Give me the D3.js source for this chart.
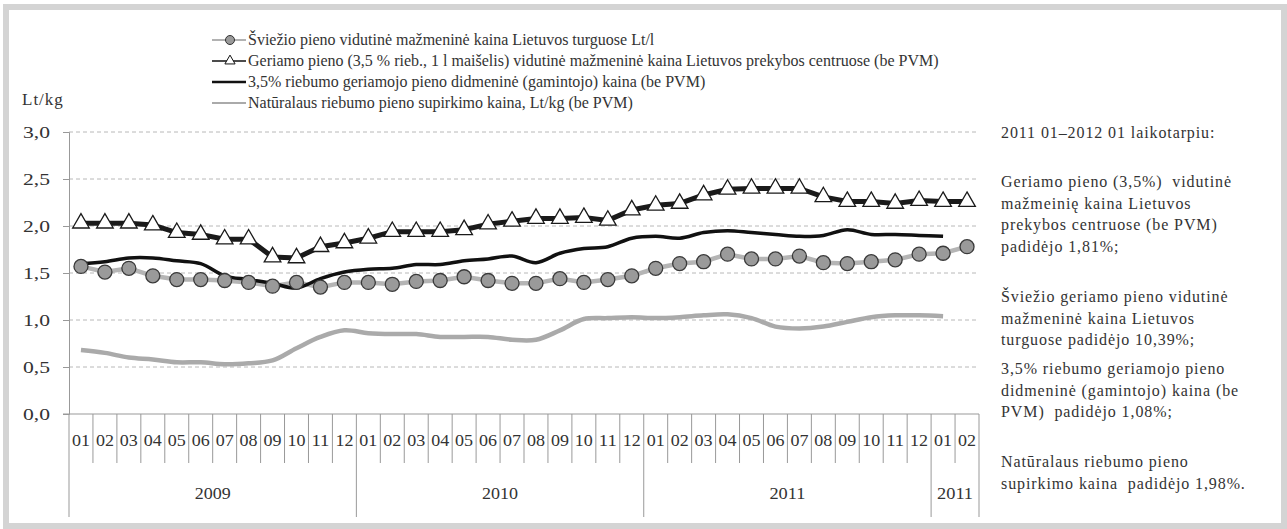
<!DOCTYPE html>
<html>
<head>
<meta charset="utf-8">
<script src="https://cdn.jsdelivr.net/npm/d3@7"></script>
<style>
  body { margin: 0; background: #fff; }
</style>
</head>
<body>
<svg id="chart" width="1287" height="529"></svg>
<script>
// months 2009-01 .. 2011-02 (last two labelled "2011" as in the source)
const months = ['01','02','03','04','05','06','07','08','09','10','11','12',
  '01','02','03','04','05','06','07','08','09','10','11','12',
  '01','02','03','04','05','06','07','08','09','10','11','12',
  '01','02'];
const years = [
  { label: '2009', from: 0, to: 12 },
  { label: '2010', from: 12, to: 24 },
  { label: '2011', from: 24, to: 36 },
  { label: '2011', from: 36, to: 38 }
];
const yTicks = [0, 0.5, 1, 1.5, 2, 2.5, 3];

// Šviežio pieno vidutinė mažmeninė kaina Lietuvos turguose
const turgus = [1.57,1.51,1.55,1.47,1.43,1.43,1.42,1.40,1.36,1.40,1.35,1.40,
  1.40,1.38,1.41,1.42,1.46,1.42,1.39,1.39,1.44,1.40,1.43,1.47,
  1.55,1.60,1.62,1.70,1.65,1.65,1.68,1.61,1.60,1.62,1.64,1.70,
  1.71,1.78];
// Geriamo pieno vidutinė mažmeninė kaina prekybos centruose
const centrai = [2.03,2.03,2.03,2.01,1.93,1.91,1.86,1.86,1.67,1.66,1.78,1.82,
  1.87,1.94,1.94,1.94,1.96,2.02,2.05,2.08,2.08,2.09,2.06,2.17,
  2.22,2.24,2.33,2.39,2.40,2.40,2.40,2.31,2.26,2.26,2.24,2.27,
  2.26,2.26];
// didmeninė (gamintojo) kaina
const didmenine = [1.60,1.62,1.66,1.66,1.63,1.60,1.47,1.43,1.39,1.34,1.44,1.51,
  1.54,1.55,1.59,1.59,1.63,1.65,1.68,1.61,1.71,1.76,1.78,1.87,
  1.89,1.87,1.93,1.95,1.93,1.91,1.89,1.90,1.96,1.91,1.91,1.90,
  1.89,null];
// supirkimo kaina
const supirkimas = [0.68,0.65,0.60,0.58,0.55,0.55,0.53,0.54,0.57,0.70,0.82,0.89,
  0.86,0.85,0.85,0.82,0.82,0.82,0.79,0.79,0.89,1.01,1.02,1.03,
  1.02,1.03,1.05,1.06,1.02,0.93,0.91,0.93,0.98,1.03,1.05,1.05,
  1.04,null];

const legendLabels = [
  'Šviežio pieno vidutinė mažmeninė kaina Lietuvos turguose Lt/l',
  'Geriamo pieno (3,5 % rieb., 1 l maišelis) vidutinė mažmeninė kaina Lietuvos prekybos centruose (be PVM)',
  '3,5% riebumo geriamojo pieno didmeninė (gamintojo) kaina (be PVM)',
  'Natūralaus riebumo pieno supirkimo kaina, Lt/kg (be PVM)'
];
const notes = [
  ['2011 01–2012 01 laikotarpiu:'],
  ['Geriamo pieno (3,5%)  vidutinė', 'mažmeinię kaina Lietuvos', 'prekybos centruose (be PVM)', 'padidėjo 1,81%;'],
  ['Šviežio geriamo pieno vidutinė', 'mažmeninė kaina Lietuvos', 'turguose padidėjo 10,39%;'],
  ['3,5% riebumo geriamojo pieno', 'didmeninė (gamintojo) kaina (be', 'PVM)  padidėjo 1,08%;'],
  ['Natūralaus riebumo pieno', 'supirkimo kaina  padidėjo 1,98%.']
];

const serif = '"Liberation Serif", "Times New Roman", "DejaVu Serif", serif';
const ink = '#333';

const svg = d3.select('#chart')
  .style('font-family', serif);
const plotL = 69, plotR = 979, plotT = 132, plotB = 414;

// frame
svg.append('rect')
  .attr('x', 6).attr('y', 7).attr('width', 1278).attr('height', 519)
  .attr('fill', 'none').attr('stroke', '#d4d4d4').attr('stroke-width', 6);

const x = d3.scaleBand().domain(d3.range(months.length)).range([plotL, plotR]);
const y = d3.scaleLinear().domain([0, 3]).range([plotB, plotT]);
const cx = (i) => x(i) + x.bandwidth() / 2;

function label(sel, size) {
  return sel.attr('font-family', serif).attr('font-size', size).attr('fill', ink);
}

// grid
svg.append('g').selectAll('line')
  .data(yTicks.filter((t) => t > 0))
  .enter().append('line')
  .attr('x1', plotL).attr('x2', plotR)
  .attr('y1', (d) => y(d)).attr('y2', (d) => y(d))
  .attr('stroke', '#b8b8b8').attr('stroke-dasharray', '4,3');

// y axis
const yAxis = svg.append('g')
  .attr('transform', `translate(${plotL},0)`)
  .call(d3.axisLeft(y).tickValues(yTicks).tickSize(6).tickPadding(13)
    .tickFormat((d) => d3.format('.1f')(d).replace('.', ',')));
yAxis.attr('font-family', serif);
yAxis.select('.domain').attr('stroke', '#999');
yAxis.selectAll('.tick line').attr('stroke', '#999');
label(yAxis.selectAll('.tick text'), 17)
  .attr('textLength', 27).attr('lengthAdjust', 'spacingAndGlyphs');

label(svg.append('text').attr('x', 22).attr('y', 105), 17)
  .attr('letter-spacing', 1).text('Lt/kg');

// x axis: month cells and year groups
svg.append('line').attr('x1', plotL - 6).attr('x2', plotR)
  .attr('y1', plotB).attr('y2', plotB).attr('stroke', '#999');
svg.append('g').selectAll('line')
  .data(d3.range(months.length + 1))
  .enter().append('line')
  .attr('x1', (i) => plotL + i * x.bandwidth()).attr('x2', (i) => plotL + i * x.bandwidth())
  .attr('y1', plotB)
  .attr('y2', (i) => (years.some((g) => g.from === i || g.to === i) ? 517 : 463))
  .attr('stroke', '#999');
label(svg.append('g').selectAll('text')
  .data(months)
  .enter().append('text')
  .attr('x', (d, i) => cx(i) - 9).attr('y', 446), 17)
  .attr('textLength', 18).attr('lengthAdjust', 'spacingAndGlyphs')
  .text((d) => d);
label(svg.append('g').selectAll('text')
  .data(years)
  .enter().append('text')
  .attr('x', (d) => (x(d.from) + x(d.to - 1) + x.bandwidth()) / 2 - 18).attr('y', 499), 17)
  .attr('textLength', 36).attr('lengthAdjust', 'spacingAndGlyphs')
  .text((d) => d.label);

// series
const smooth = d3.line().defined((d) => d != null)
  .x((d, i) => cx(i)).y((d) => y(d)).curve(d3.curveCatmullRom.alpha(0.5));
const straight = d3.line().x((d, i) => cx(i)).y((d) => y(d));

svg.append('path').datum(supirkimas).attr('d', smooth)
  .attr('fill', 'none').attr('stroke', '#aaaaaa').attr('stroke-width', 4.5);
svg.append('path').datum(turgus).attr('d', straight)
  .attr('fill', 'none').attr('stroke', '#b5b5b5').attr('stroke-width', 4.5);
svg.append('path').datum(didmenine).attr('d', smooth)
  .attr('fill', 'none').attr('stroke', '#111').attr('stroke-width', 3.5);
svg.append('path').datum(centrai).attr('d', straight)
  .attr('fill', 'none').attr('stroke', '#1a1a1a').attr('stroke-width', 5);

svg.append('g').selectAll('circle')
  .data(turgus)
  .enter().append('circle')
  .attr('cx', (d, i) => cx(i)).attr('cy', (d) => y(d)).attr('r', 7)
  .attr('fill', '#9a9a9a').attr('stroke', '#3a3a3a').attr('stroke-width', 1.3);

const tri = d3.symbol().type(d3.symbolTriangle).size(120);
svg.append('g').selectAll('path')
  .data(centrai)
  .enter().append('path')
  .attr('d', tri)
  .attr('transform', (d, i) => `translate(${cx(i)},${y(d)})`)
  .attr('fill', '#fff').attr('stroke', '#1a1a1a').attr('stroke-width', 1.3);

// legend
const lg = svg.append('g');
const rowsY = [40, 61, 82, 103];
const legStyle = [
  { stroke: '#999', w: 1.5, mark: 'circle' },
  { stroke: '#111', w: 1.5, mark: 'tri' },
  { stroke: '#111', w: 2.5, mark: null },
  { stroke: '#aaa', w: 2, mark: null }
];
legendLabels.forEach((lab, k) => {
  const ry = rowsY[k];
  const st = legStyle[k];
  lg.append('line').attr('x1', 212).attr('x2', 246).attr('y1', ry).attr('y2', ry)
    .attr('stroke', st.stroke).attr('stroke-width', st.w);
  if (st.mark === 'circle') {
    lg.append('circle').attr('cx', 230).attr('cy', ry).attr('r', 4.5)
      .attr('fill', '#9a9a9a').attr('stroke', '#333').attr('stroke-width', 1);
  } else if (st.mark === 'tri') {
    lg.append('path').attr('d', d3.symbol().type(d3.symbolTriangle).size(45))
      .attr('transform', `translate(230,${ry})`)
      .attr('fill', '#fff').attr('stroke', '#111').attr('stroke-width', 1);
  }
  label(lg.append('text').attr('x', 248).attr('y', ry + 5), 16).text(lab);
});

// notes on the right
const noteTop = [133, 182, 297, 369, 462];
notes.forEach((block, b) => {
  block.forEach((line, j) => {
    label(svg.append('text').attr('x', 1001).attr('y', noteTop[b] + j * 21.5 + 5), 16)
      .attr('letter-spacing', 0.9)
      .style('white-space', 'pre')
      .text(line);
  });
});
</script>
</body>
</html>
